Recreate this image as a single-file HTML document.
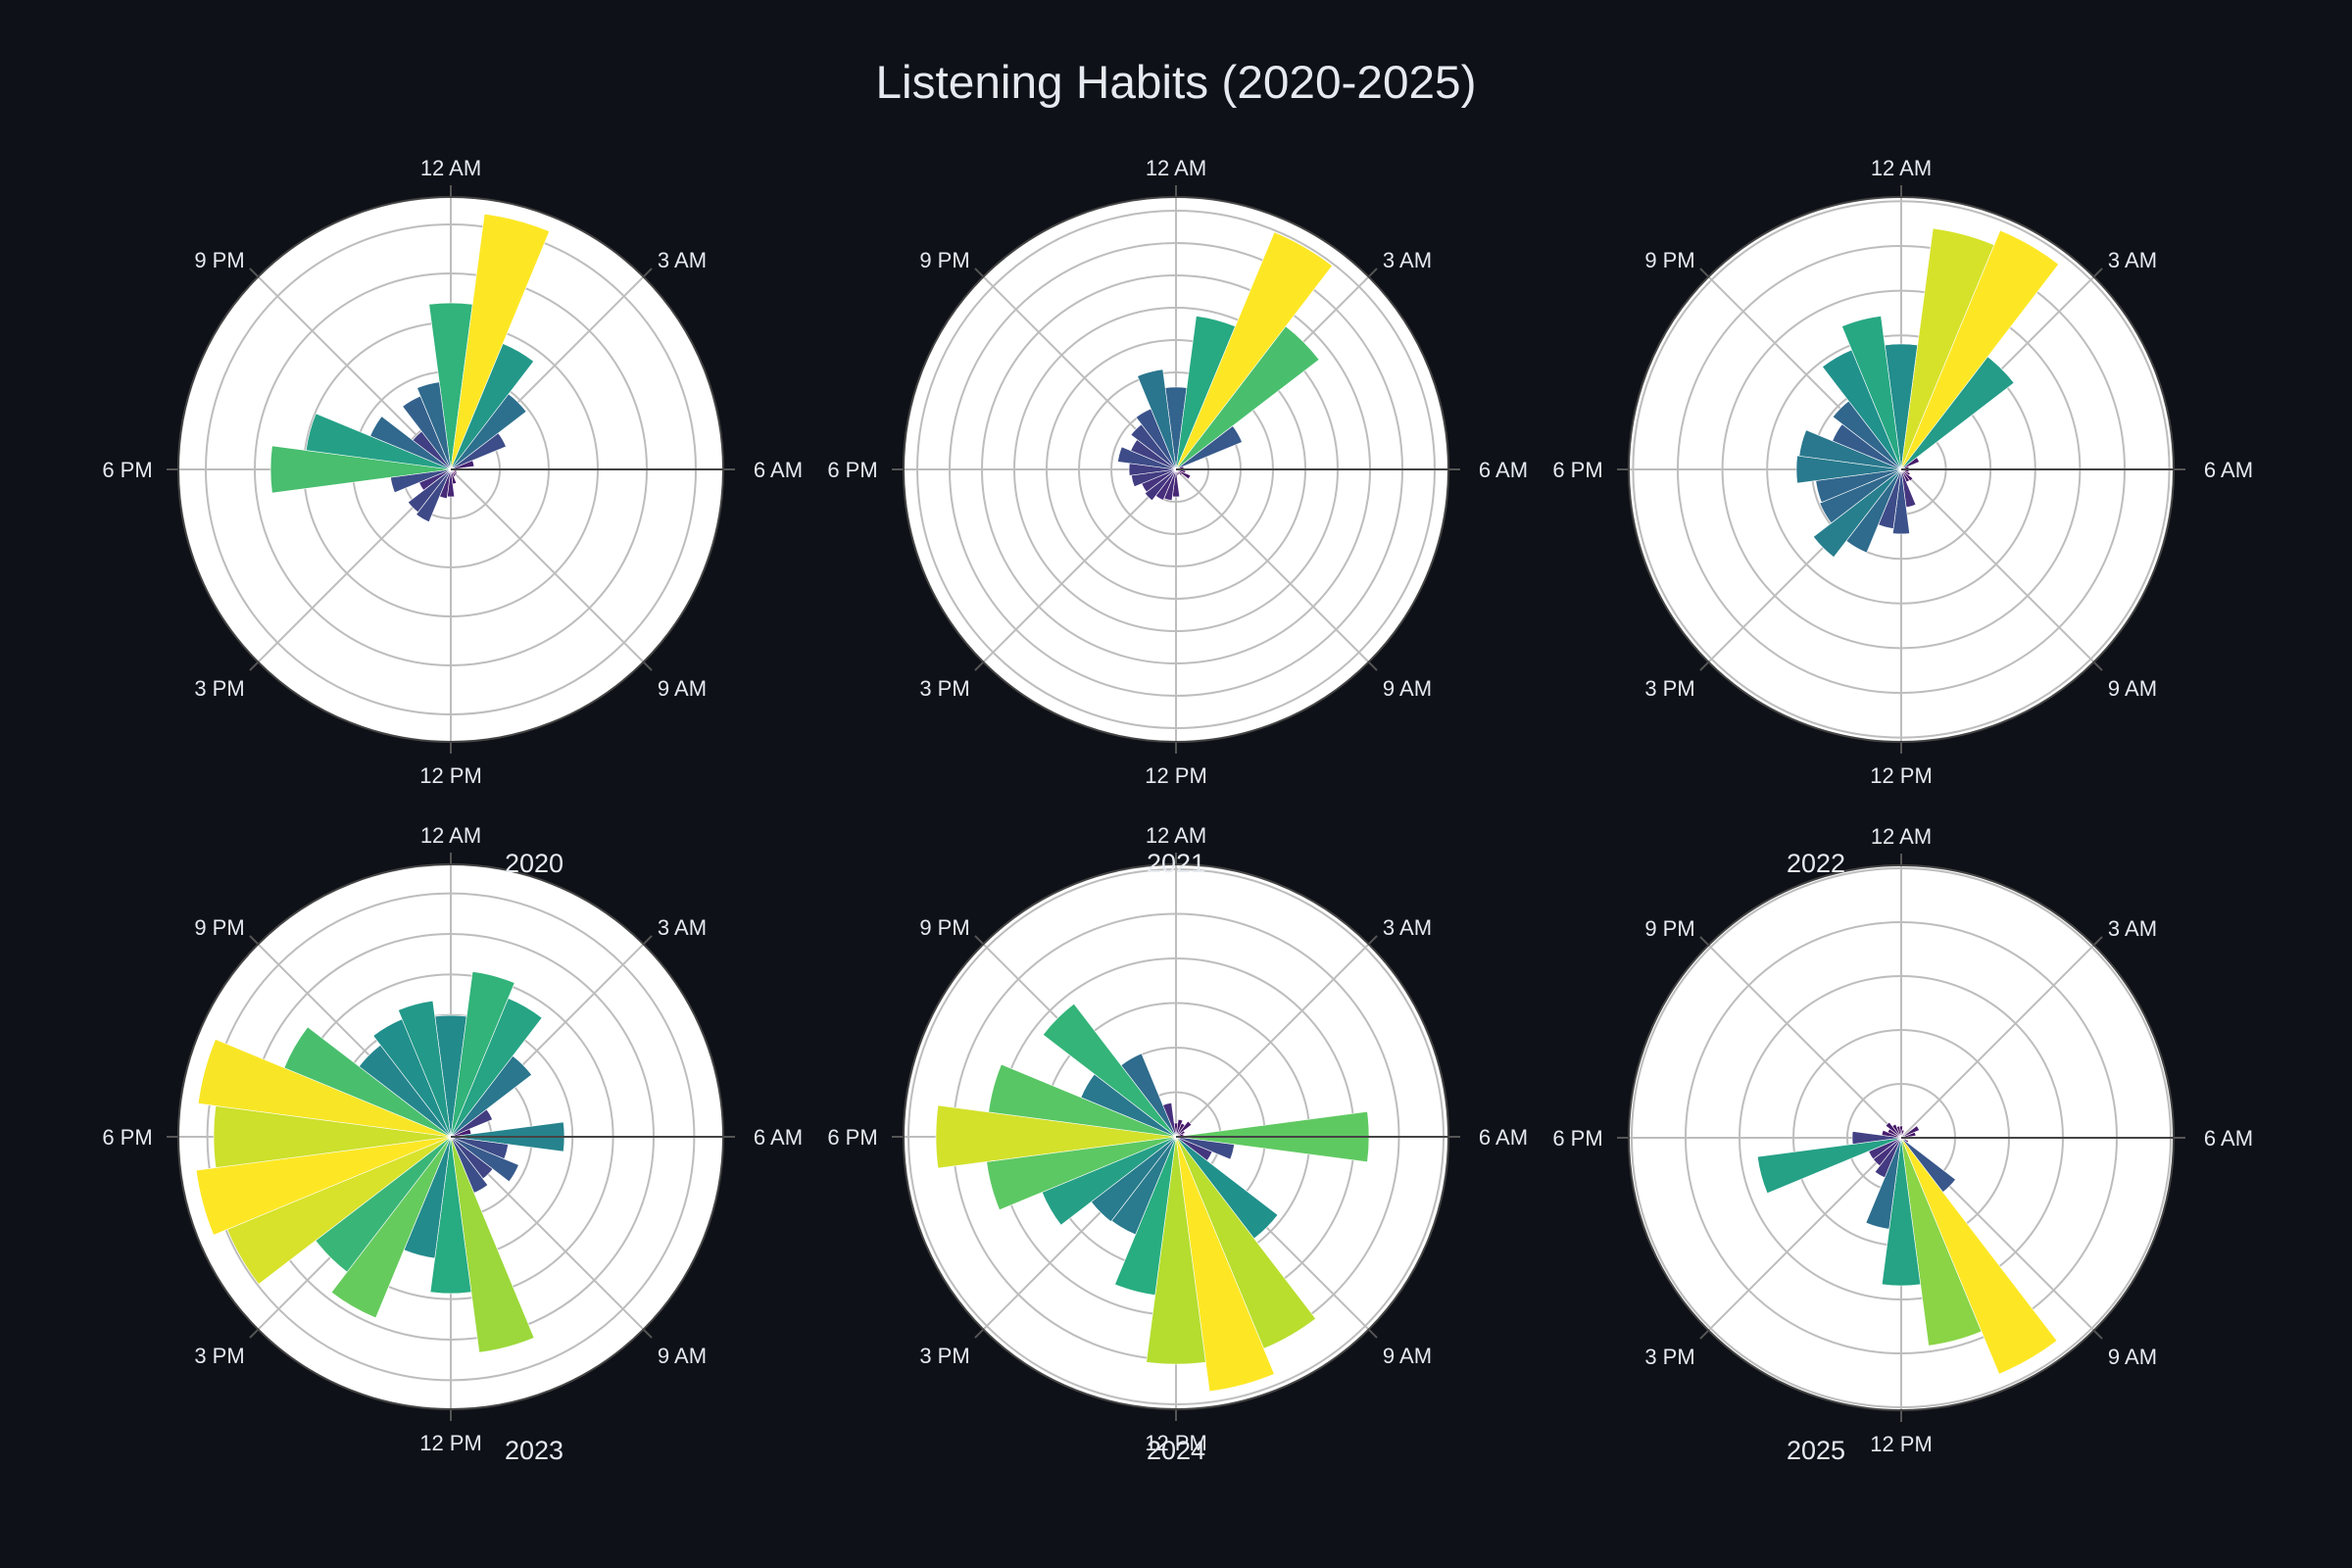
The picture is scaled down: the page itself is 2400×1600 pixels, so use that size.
<!DOCTYPE html>
<html><head><meta charset="utf-8"><style>
html,body{margin:0;padding:0;background:#0e1117;}
svg{display:block;}
text{font-family:"Liberation Sans",Arial,sans-serif;fill:#e6eaf0;}
</style></head><body>
<svg id="s" width="2400" height="1600" viewBox="0 0 2400 1600" xmlns="http://www.w3.org/2000/svg">
<rect width="2400" height="1600" fill="#0e1117"/>
<text x="1200" y="100" font-size="47" text-anchor="middle" textLength="613" lengthAdjust="spacingAndGlyphs">Listening Habits (2020-2025)</text>
<g id="g"></g>
<text x="545" y="890" font-size="27" text-anchor="middle">2020</text>
<text x="1200" y="890" font-size="27" text-anchor="middle">2021</text>
<text x="1853" y="890" font-size="27" text-anchor="middle">2022</text>
<text x="545" y="1489" font-size="27" text-anchor="middle">2023</text>
<text x="1200" y="1489" font-size="27" text-anchor="middle">2024</text>
<text x="1853" y="1489" font-size="27" text-anchor="middle">2025</text>
</svg>
<script>
var V=["#440154","#472d7b","#3b528b","#2c728e","#21918c","#28ae80","#5ec962","#addc30","#fde725"];
function hx(c){return [parseInt(c.substr(1,2),16),parseInt(c.substr(3,2),16),parseInt(c.substr(5,2),16)];}
function vir(t){t=Math.max(0,Math.min(1,t));var p=t*8,i=Math.min(7,Math.floor(p)),f=p-i;var a=hx(V[i]),b=hx(V[i+1]);
return "rgb("+a.map(function(v,k){return Math.round(v+(b[k]-v)*f);}).join(",")+")";}
var charts=[
{cx:460,cy:479,s:50,d:[170,263,139,97,61,24,5,6,7,8,8,15,28,30,58,55,35,62,184,149,89,49,81,90]},
{cx:1200,cy:479,s:33,d:[84,158,262,184,73,8,6,10,16,8,6,6,28,32,34,40,38,46,48,60,50,58,67,103]},
{cx:1940,cy:479,s:45.6,d:[128,248,264,145,20,8,4,8,10,15,14,39,66,61,92,113,90,88,107,105,76,88,132,158]},
{cx:460,cy:1160,s:41.4,d:[124,170,153,104,46,21,116,59,75,54,62,222,160,125,200,174,247,262,242,260,184,118,130,140]},
{cx:1200,cy:1160,s:45.5,d:[14,18,15,20,10,8,197,60,40,131,234,262,232,163,108,109,148,195,245,193,105,171,92,35]},
{cx:1940,cy:1161,s:55,d:[12,8,4,5,20,15,8,5,8,70,261,214,151,94,44,36,36,148,50,20,15,20,15,12]}];
var R=278,out="";
var labs=["12 AM","3 AM","6 AM","9 AM","12 PM","3 PM","6 PM","9 PM"];
var off=[[0,-308],[236,-214],[334,0],[236,223],[0,312],[-236,223],[-330,0],[-236,-214]];
function P(cx,cy,r,a){var t=a*Math.PI/180;return [cx+r*Math.sin(t),cy-r*Math.cos(t)];}
charts.forEach(function(c){
 out+='<circle cx="'+c.cx+'" cy="'+c.cy+'" r="'+R+'" fill="#fff"/>';
 for(var r=c.s;r<R-1;r+=c.s) out+='<circle cx="'+c.cx+'" cy="'+c.cy+'" r="'+r.toFixed(1)+'" fill="none" stroke="#bdbdbd" stroke-width="2"/>';
 for(var k=0;k<8;k++){var a=k*45;var p=P(c.cx,c.cy,R,a);
  if(a!=90) out+='<line x1="'+c.cx+'" y1="'+c.cy+'" x2="'+p[0]+'" y2="'+p[1]+'" stroke="#bdbdbd" stroke-width="2"/>';
  var q=P(c.cx,c.cy,R+12,a);
  out+='<line x1="'+p[0]+'" y1="'+p[1]+'" x2="'+q[0]+'" y2="'+q[1]+'" stroke="#555" stroke-width="2"/>';
 }
 var mx=Math.max.apply(null,c.d);
 c.d.forEach(function(v,h){var a=h*15;var p1=P(c.cx,c.cy,v,a-7.5),p2=P(c.cx,c.cy,v,a+7.5);
  out+='<path d="M'+c.cx+','+c.cy+' L'+p1[0].toFixed(1)+','+p1[1].toFixed(1)+' A'+v+','+v+' 0 0 1 '+p2[0].toFixed(1)+','+p2[1].toFixed(1)+' Z" fill="'+vir(v/mx)+'" stroke="#fff" stroke-width="0.6"/>';});
 var e=P(c.cx,c.cy,R,90);
 out+='<line x1="'+c.cx+'" y1="'+c.cy+'" x2="'+e[0]+'" y2="'+e[1]+'" stroke="#444" stroke-width="2"/>';
 out+='<circle cx="'+c.cx+'" cy="'+c.cy+'" r="'+R+'" fill="none" stroke="#444" stroke-width="2"/>';
 for(var k=0;k<8;k++){
  out+='<text x="'+(c.cx+off[k][0])+'" y="'+(c.cy+off[k][1]+8)+'" font-size="22" text-anchor="middle">'+labs[k]+'</text>';}
});
document.getElementById("g").innerHTML=out;
</script>
</body></html>
